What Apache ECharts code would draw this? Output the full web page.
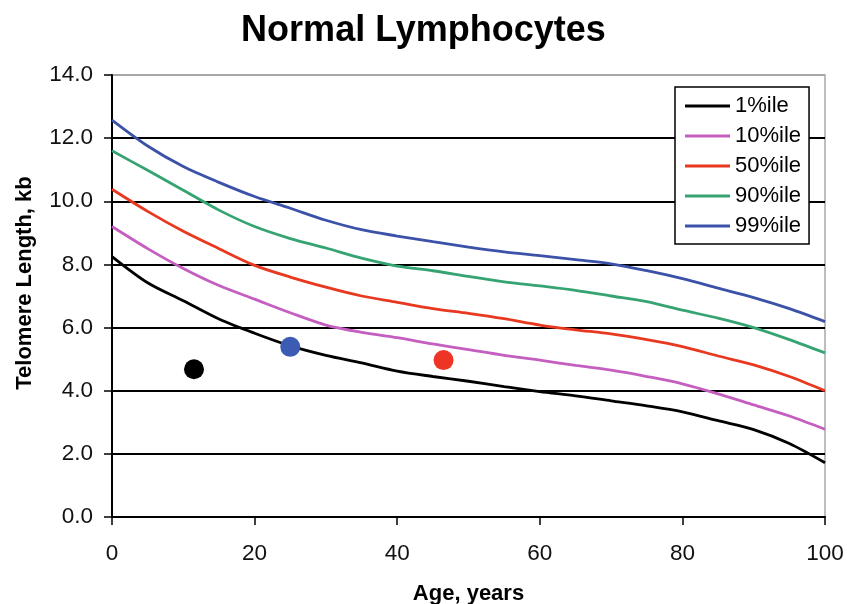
<!DOCTYPE html>
<html>
<head>
<meta charset="utf-8">
<script src="https://cdn.jsdelivr.net/npm/echarts@6/dist/echarts.min.js"></script>
<style>html,body{margin:0;padding:0;background:#fff}#c{width:847px;height:604px}</style>
</head>
<body>
<div id="c"></div>
<script>
var ages = [0,5,10,15,20,25,30,35,40,45,50,55,60,65,70,75,80,85,90,95,100];
var p1  = [8.25,7.42,6.85,6.27,5.82,5.42,5.12,4.88,4.62,4.45,4.30,4.13,3.97,3.84,3.68,3.52,3.33,3.05,2.77,2.33,1.72];
var p10 = [9.20,8.50,7.87,7.33,6.90,6.47,6.08,5.85,5.68,5.48,5.30,5.12,4.97,4.80,4.65,4.45,4.22,3.90,3.55,3.20,2.78];
var p50 = [10.38,9.68,9.05,8.50,7.97,7.60,7.28,7.00,6.80,6.60,6.45,6.28,6.08,5.93,5.80,5.62,5.40,5.10,4.82,4.45,4.00];
var p90 = [11.60,10.98,10.35,9.72,9.20,8.82,8.52,8.20,7.95,7.80,7.62,7.45,7.32,7.18,7.00,6.82,6.55,6.30,6.00,5.62,5.20];
var p99 = [12.57,11.75,11.10,10.60,10.15,9.78,9.40,9.10,8.90,8.72,8.55,8.40,8.28,8.15,8.02,7.80,7.55,7.25,6.95,6.60,6.19];
var seriesNames = ['1%ile','10%ile','50%ile','90%ile','99%ile'];
var seriesColors = ['#000000','#c45ec0','#e8381f','#36a472','#3b52a8'];
var pointAges = [11.5, 25.0, 46.5];
var pointValues = [4.68, 5.39, 4.97];
var pointColors = ['#000000','#3c5cb4','#ee3424'];
var yTicks = ['0.0','2.0','4.0','6.0','8.0','10.0','12.0','14.0'];

var font = "'Liberation Sans', Arial, sans-serif";
var curves = [p1,p10,p50,p90,p99];
var series = curves.map(function(vals, i){
  return {
    name: seriesNames[i], type: 'line', smooth: 0.3, showSymbol: false,
    data: ages.map(function(a, j){ return [a, vals[j]]; }),
    lineStyle: {color: seriesColors[i], width: 2.8},
    itemStyle: {color: seriesColors[i]}, z: 3
  };
});
pointAges.forEach(function(a, i){
  series.push({
    name: 'pt' + i, type: 'scatter', symbolSize: 20,
    data: [[a, pointValues[i]]],
    itemStyle: {color: pointColors[i], opacity: 1}, z: 4
  });
});

var chart = echarts.init(document.getElementById('c'), null, {renderer: 'canvas'});
chart.setOption({
  animation: false,
  backgroundColor: '#fff',
  title: {
    text: 'Normal Lymphocytes', left: 'center', top: 8,
    textStyle: {fontFamily: font, fontSize: 36, fontWeight: 'bold', color: '#000'}
  },
  grid: {left: 112, right: 22, top: 75, bottom: 87, show: true, borderColor: '#a8a8a8', borderWidth: 1.5,
    containLabel: false, outerBoundsMode: 'none'},
  legend: {
    data: seriesNames, orient: 'vertical', left: 675, top: 87,
    backgroundColor: '#fff', borderColor: '#000', borderWidth: 1.5,
    padding: [8, 8, 7, 10], itemGap: 8, itemWidth: 45, itemHeight: 3, icon: 'rect',
    textStyle: {fontFamily: font, fontSize: 22, color: '#000'}
  },
  xAxis: {
    type: 'value', min: 0, max: 100, interval: 20,
    name: 'Age, years', nameLocation: 'middle', nameGap: 66,
    nameTextStyle: {fontFamily: font, fontSize: 22, fontWeight: 'bold', color: '#000'},
    axisLine: {lineStyle: {color: '#000', width: 2}},
    axisTick: {show: true, length: 8, lineStyle: {color: '#000', width: 1.5}},
    axisLabel: {fontFamily: font, fontSize: 22.5, color: '#111', margin: 25},
    splitLine: {show: false}
  },
  yAxis: {
    type: 'value', min: 0, max: 14, interval: 2,
    name: 'Telomere Length, kb', nameLocation: 'middle', nameGap: 76,
    nameTextStyle: {fontFamily: font, fontSize: 22, fontWeight: 'bold', color: '#000', padding: [0, 0, 0, 26]},
    axisLine: {show: true, lineStyle: {color: '#000', width: 2}},
    axisTick: {show: true, length: 8, lineStyle: {color: '#000', width: 1.5}},
    axisLabel: {fontFamily: font, fontSize: 22.5, color: '#111', margin: 19,
      formatter: function(v){ return yTicks[Math.round(v/2)]; }},
    splitLine: {show: true, lineStyle: {color: ['#000','#000','#000','#000','#000','#000','#000','#a8a8a8'], width: 1.8}}
  },
  series: series
});
</script>
</body>
</html>
